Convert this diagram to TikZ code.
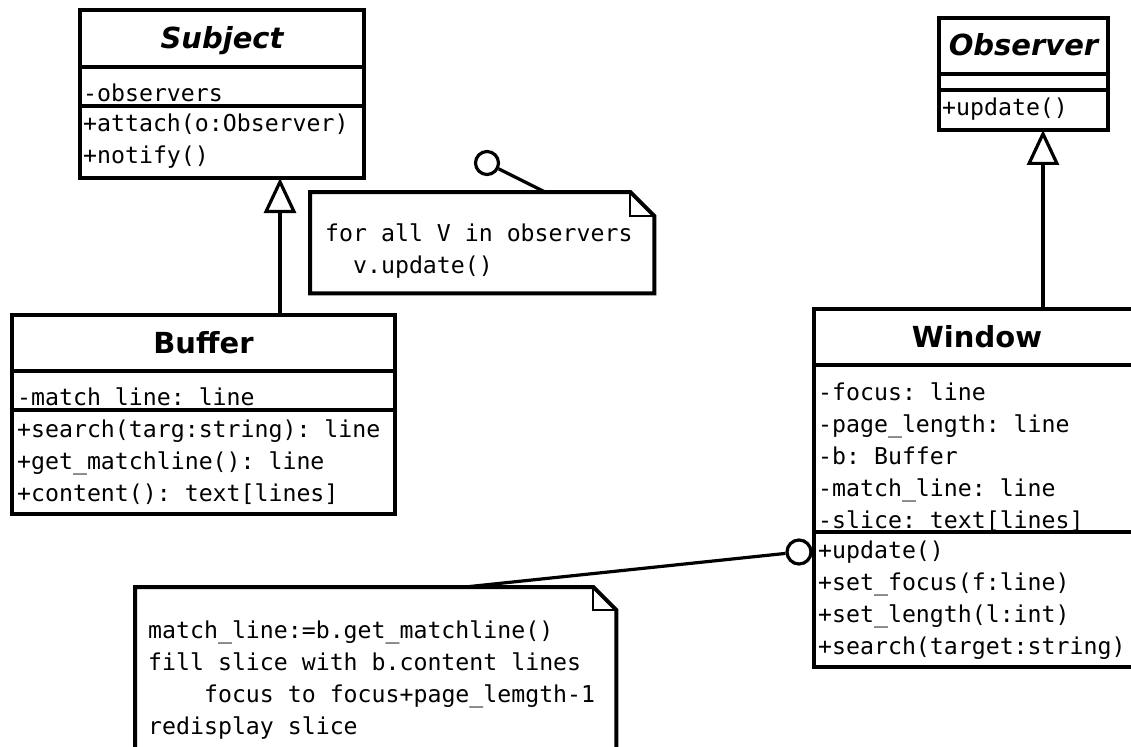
\documentclass[tikz,border=0pt]{standalone}
\usepackage{fontspec}
\setmainfont{DejaVu Sans}
\setmonofont{DejaVu Sans Mono}
\usepackage{tikz}
\usetikzlibrary{arrows.meta}
\newcommand\clsname{\fontsize{29}{32}\selectfont\bfseries}
\newcommand\absname{\clsname\itshape}
\newcommand\code{\fontsize{23.2}{32}\selectfont\ttfamily}
\tikzstyle{box}=[draw,line width=4pt,inner sep=0pt,outer sep=0pt,anchor=north west]
\tikzstyle{title}=[box,text height=20pt,text depth=0pt]
\tikzstyle{txt}=[anchor=base west,inner sep=0pt,font=\code]
\tikzstyle{link}=[line width=3.2pt]
\tikzstyle{notebox}=[line width=4pt]
\tikzstyle{fold}=[line width=2pt]
\tikzstyle{ball}=[circle,draw,line width=3.2pt,minimum size=23pt,inner sep=0pt]
\tikzstyle{genhead}=[>/.tip={Triangle[open,length=35pt,width=32pt,line width=3.2pt]}]
\tikzstyle{gen}=[link,genhead,->]

\begin{document}
\begin{tikzpicture}[x=1pt,y=-1pt]
	\useasboundingbox (0,0) rectangle (1131,746);
	% Subject
	\node[title,minimum width=284pt,minimum height=57pt] (subj) at (80,10) {\absname Subject};
	\node[box,minimum width=284pt,minimum height=39pt] (subj-a) at (subj.south west) {};
	\node[box,minimum width=284pt,minimum height=72pt] (subj-m) at (subj-a.south west) {};
	\node[txt] (subj-a1) at (83,102) {-observers};
	\foreach \l [count=\i] in {+attach(o:Observer),+notify()}
		\node[txt] (subj-m\i) at (83,100+32*\i) {\l};
	% Observer
	\node[title,minimum width=169pt,minimum height=56pt] (obs) at (939,18) {\absname Observer};
	\node[box,minimum width=169pt,minimum height=16pt] (obs-a) at (obs.south west) {};
	\node[box,minimum width=169pt,minimum height=40pt] (obs-m) at (obs-a.south west) {};
	\node[txt] (obs-m1) at (942,116) {+update()};
	% Buffer
	\node[title,minimum width=383pt,minimum height=56pt] (buf) at (12,315) {\clsname Buffer};
	\node[box,minimum width=383pt,minimum height=39pt] (buf-a) at (buf.south west) {};
	\node[box,minimum width=383pt,minimum height=104pt] (buf-m) at (buf-a.south west) {};
	\node[txt] (buf-a1) at (17,405) {-match\_line: line};
	\foreach \l [count=\i] in {+search(targ:string): line,+get\_matchline(): line,+content(): text[lines]}
		\node[txt] (buf-m\i) at (17,405+32*\i) {\l};
	% Window
	\node[title,minimum width=330pt,minimum height=56pt] (win) at (814,309) {\hspace*{-4pt}\clsname Window};
	\node[box,minimum width=330pt,minimum height=167pt] (win-a) at (win.south west) {};
	\node[box,minimum width=330pt,minimum height=135pt] (win-m) at (win-a.south west) {};
	\foreach \l [count=\i] in {-focus: line,-page\_length: line,-b: Buffer,-match\_line: line,-slice: text[lines]}
		\node[txt] (win-a\i) at (818,368+32*\i) {\l};
	\foreach \l [count=\i] in {+update(),+set\_focus(f:line),+set\_length(l:int),+search(target:string)}
		\node[txt] (win-m\i) at (818,526+32*\i) {\l};
	% notes
	\node[minimum width=344pt,minimum height=101pt,inner sep=0pt,anchor=north west] (n1) at (310,192) {};
	\draw[notebox] ([xshift=-24pt]n1.north east) -- (n1.north west) -- (n1.south west) -- (n1.south east) -- ([yshift=-24pt]n1.north east) -- cycle;
	\draw[fold] ([xshift=-24pt]n1.north east) |- ([yshift=-24pt]n1.north east);
	\foreach \l [count=\i] in {for all V in observers,\hphantom{xx}v.update()}
		\node[txt] (n1-\i) at (325,209+32*\i) {\l};
	\node[minimum width=481pt,minimum height=180pt,inner sep=0pt,anchor=north west] (n2) at (135,587) {};
	\draw[notebox] ([xshift=-23pt]n2.north east) -- (n2.north west) -- (n2.south west) -- (n2.south east) -- ([yshift=-23pt]n2.north east) -- cycle;
	\draw[fold] ([xshift=-23pt]n2.north east) |- ([yshift=-23pt]n2.north east);
	\foreach \l [count=\i] in {match\_line:=b.get\_matchline(),fill slice with b.content lines,\hphantom{xxxx}focus to focus+page\_lemgth-1,redisplay slice}
		\node[txt] (n2-\i) at (148,606+32*\i) {\l};
	% connectors
	\coordinate (g1) at (280,315);
	\coordinate (g2) at (1043,309);
	\draw[gen] (g1) -- (g1 |- subj-m.south);
	\draw[gen] (g2) -- (g2 |- obs-m.south);
	\node[ball] (c1) at (487,163) {};
	\coordinate (n1c) at (545,192);
	\draw[link] (n1c) -- (c1);
	\node[ball,minimum size=24pt] (c2) at (799,552) {};
	\coordinate (n2c) at (465,587);
	\draw[link] (n2c) -- (c2);
\end{tikzpicture}
\end{document}
